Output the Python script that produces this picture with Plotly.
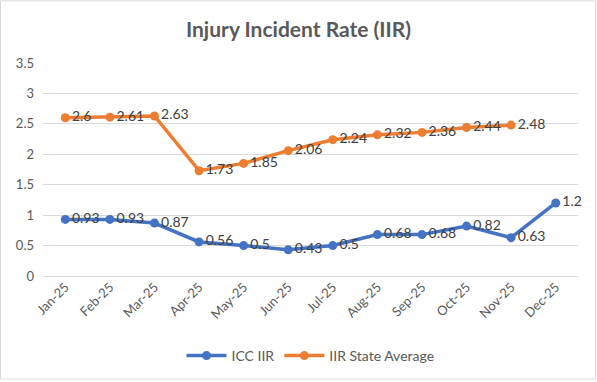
import plotly.graph_objects as go

months = ["Jan-25", "Feb-25", "Mar-25", "Apr-25", "May-25", "Jun-25",
          "Jul-25", "Aug-25", "Sep-25", "Oct-25", "Nov-25", "Dec-25"]
icc_iir = [0.93, 0.93, 0.87, 0.56, 0.5, 0.43, 0.5, 0.68, 0.68, 0.82, 0.63, 1.2]
state_avg = [2.6, 2.61, 2.63, 1.73, 1.85, 2.06, 2.24, 2.32, 2.36, 2.44, 2.48, None]
y_ticks = [0, 0.5, 1, 1.5, 2, 2.5, 3, 3.5]
y_tick_labels = ["0", "0.5", "1", "1.5", "2", "2.5", "3", "3.5"]

FONT = "Lato, Carlito, Calibri, sans-serif"
W, H = 597, 382
L, R, T, B = 43, 19, 63, 105

def labels(vals):
    return ["" if v is None else f"{v:g}" for v in vals]

fig = go.Figure()
fig.add_trace(go.Scatter(
    x=months, y=icc_iir, name="ICC IIR", mode="lines+markers+text",
    line=dict(color="#4472C4", width=3.5), marker=dict(size=9, color="#4472C4"),
    text=labels(icc_iir), textposition="middle right",
    textfont=dict(family=FONT, size=14, color="#404040"), cliponaxis=False))
fig.add_trace(go.Scatter(
    x=months, y=state_avg, name="IIR State Average", mode="lines+markers+text",
    line=dict(color="#ED7D31", width=3.5), marker=dict(size=9, color="#ED7D31"),
    text=labels(state_avg), textposition="middle right",
    textfont=dict(family=FONT, size=14, color="#404040"), cliponaxis=False))

pw, ph = W - L - R, H - T - B
fig.add_shape(type="rect", xref="paper", yref="paper",
              x0=-(L - 0.5) / pw, x1=1 + (R - 1.5) / pw,
              y0=-(B - 1.5) / ph, y1=1 + (T - 0.5) / ph,
              line=dict(color="#D9D9D9", width=1), fillcolor="rgba(0,0,0,0)")

fig.update_layout(
    width=W, height=H, margin=dict(l=L, r=R, t=T, b=B),
    paper_bgcolor="white", plot_bgcolor="white",
    font=dict(family=FONT, color="#595959", size=13),
    title=dict(text="<b>Injury Incident Rate (IIR)</b>", x=0.5, xanchor="center",
               y=1 - 30 / H, yanchor="middle",
               font=dict(family=FONT, size=21, color="#595959")),
    xaxis=dict(type="category", range=[-0.5, 11.5], tickangle=-45,
               showgrid=False, showline=False, ticks="",
               tickfont=dict(family=FONT, size=13, color="#595959")),
    yaxis=dict(range=[0, 3.5], tickvals=y_ticks, ticktext=y_tick_labels,
               showgrid=True, gridcolor="#D9D9D9", gridwidth=1,
               zeroline=True, zerolinecolor="#D9D9D9", zerolinewidth=1,
               showline=False, ticks="", ticklabelstandoff=8,
               tickfont=dict(family=FONT, size=13, color="#595959")),
    legend=dict(orientation="h", x=0.5, xanchor="center",
                y=-(356 - (H - B)) / ph, yanchor="middle",
                font=dict(family=FONT, size=14, color="#595959"),
                itemwidth=40),
    showlegend=True,
)

fig.write_html("out.html", config={"displayModeBar": False},
               post_script="document.body.style.margin='0';document.body.style.overflow='hidden';")
